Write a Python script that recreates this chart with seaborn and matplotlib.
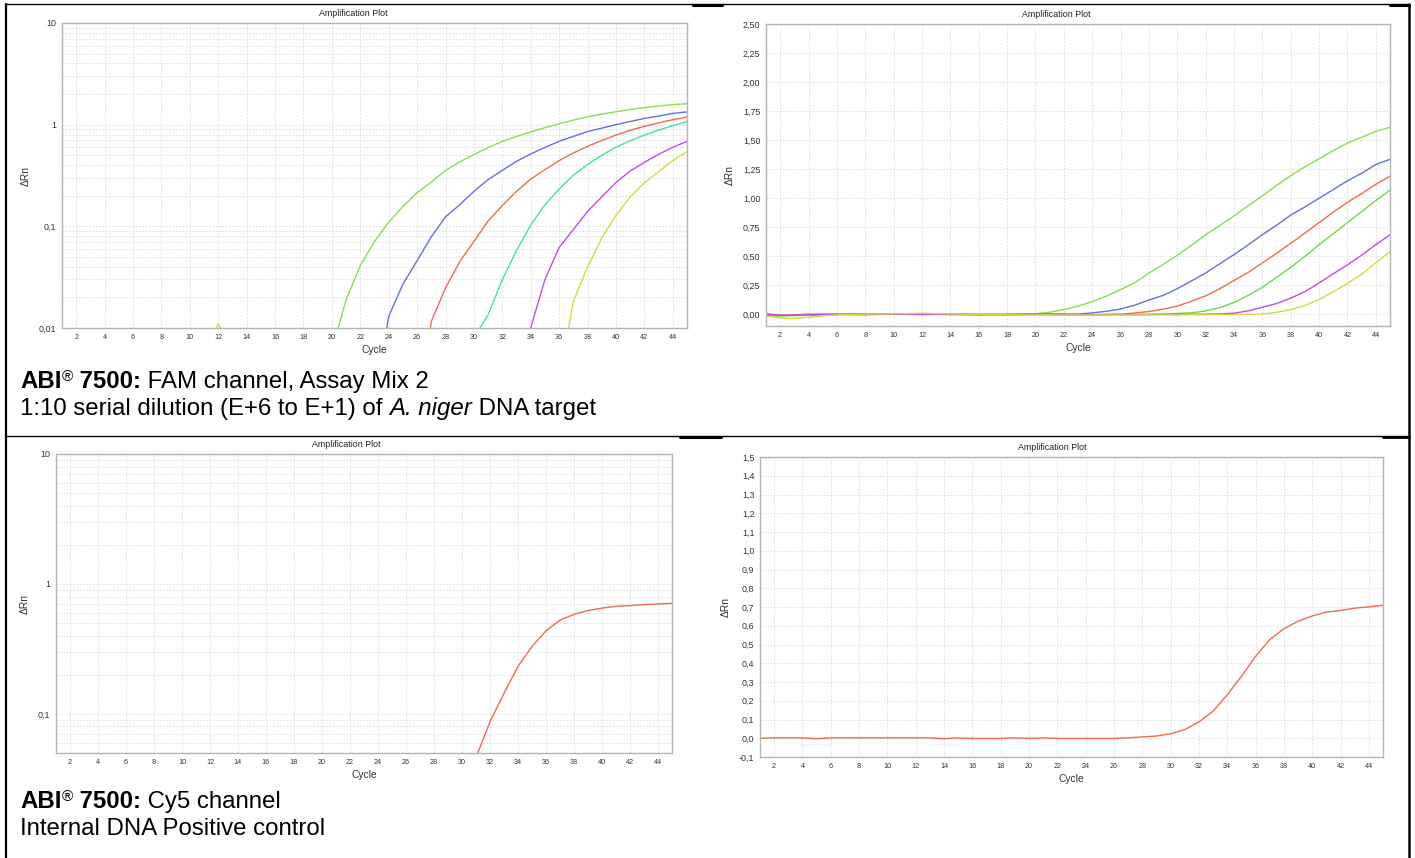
import numpy as np
import pandas as pd
import seaborn as sns
import matplotlib.pyplot as plt
from matplotlib.lines import Line2D
from matplotlib.ticker import LogLocator, NullFormatter

# FAM channel, Assay Mix 2 : 1:10 serial dilution E+6 .. E+1 (delta Rn per cycle)
cycles = list(range(1, 46))
fam_e6 = [-0.005, -0.012, -0.010, -0.006, -0.002, 0.000, 0.002, 0.003, 0.002, 0.001,
          0.000, -0.001, 0.000, 0.001, 0.000, -0.001, 0.000, 0.001, 0.002, 0.006,
          0.019, 0.041, 0.071, 0.110, 0.157, 0.214, 0.272, 0.355, 0.430, 0.508,
          0.595, 0.685, 0.765, 0.848, 0.935, 1.020, 1.110, 1.195, 1.270, 1.340,
          1.410, 1.475, 1.525, 1.575, 1.610]
fam_e5 = [-0.008, -0.010, -0.004, 0.002, 0.001, 0.000, -0.002, -0.003, 0.000, 0.002,
          0.001, 0.000, 0.001, 0.000, -0.001, -0.002, -0.002, -0.003, -0.001, 0.000,
          0.001, 0.001, 0.002, 0.013, 0.027, 0.046, 0.079, 0.124, 0.163, 0.221,
          0.288, 0.356, 0.436, 0.515, 0.598, 0.686, 0.767, 0.855, 0.925, 1.000,
          1.075, 1.150, 1.215, 1.290, 1.335]
fam_e4 = [0.005, -0.005, -0.006, -0.003, 0.000, 0.002, 0.003, 0.003, 0.004, 0.004,
          0.004, 0.003, 0.003, 0.002, 0.001, 0.000, 0.001, 0.002, 0.003, 0.004,
          0.005, 0.003, -0.002, -0.003, 0.000, 0.0012, 0.0116, 0.0248, 0.045, 0.071,
          0.113, 0.160, 0.221, 0.292, 0.361, 0.443, 0.526, 0.612, 0.700, 0.790,
          0.880, 0.965, 1.040, 1.120, 1.190]
fam_e3 = [-0.015, -0.012, -0.010, -0.008, -0.004, -0.001, 0.001, 0.002, 0.002, 0.002,
          0.001, 0.000, 0.000, 0.000, 0.000, -0.001, -0.001, -0.002, -0.002, -0.002,
          -0.003, -0.003, -0.003, -0.003, -0.002, -0.002, -0.001, 0.000, 0.002, 0.008,
          0.0135, 0.030, 0.058, 0.103, 0.163, 0.233, 0.318, 0.405, 0.500, 0.600,
          0.695, 0.790, 0.885, 0.980, 1.070]
fam_e2 = [0.000, -0.008, -0.007, -0.004, -0.001, 0.000, 0.001, 0.002, 0.002, 0.002,
          0.001, 0.000, 0.000, -0.001, -0.001, -0.002, -0.002, -0.002, -0.001, -0.001,
          -0.001, -0.002, -0.002, -0.002, -0.002, -0.001, -0.001, -0.001, 0.000, 0.000,
          0.001, 0.002, 0.004, 0.0101, 0.030, 0.062, 0.093, 0.140, 0.195, 0.270,
          0.350, 0.426, 0.510, 0.600, 0.685]
fam_e1 = [-0.012, -0.030, -0.035, -0.025, -0.012, -0.004, 0.000, 0.002, 0.004, 0.005,
          0.006, 0.011, 0.006, 0.004, 0.002, 0.000, -0.001, -0.002, -0.003, -0.004,
          -0.004, -0.005, -0.005, -0.005, -0.005, -0.005, -0.005, -0.004, -0.004, -0.004,
          -0.003, -0.003, -0.002, -0.001, 0.000, 0.003, 0.0183, 0.040, 0.077, 0.128,
          0.195, 0.268, 0.345, 0.445, 0.540]
fam_samples = ['E+6', 'E+5', 'E+4', 'E+3', 'E+2', 'E+1']
fam_colors_log = ['#86e04a', '#6070f0', '#f26a4c', '#3fe892', '#c04cf0', '#d8d83c']
fam_colors_lin = ['#86e04a', '#6070f0', '#f26a4c', '#6ada48', '#c04cf0', '#d8d83c']

# Cy5 channel, internal DNA positive control
cy5_ic = [0.000, 0.002, 0.002, 0.002, -0.002, 0.002, 0.002, 0.002, 0.002, 0.002,
          0.002, 0.002, 0.002, -0.002, 0.002, -0.001, -0.001, -0.001, 0.002, -0.001,
          0.002, -0.001, -0.001, -0.001, -0.001, -0.001, 0.002, 0.007, 0.012, 0.024,
          0.046, 0.087, 0.144, 0.232, 0.330, 0.436, 0.526, 0.584, 0.624, 0.652,
          0.673, 0.681, 0.694, 0.701, 0.709]
cy5_color = '#f26a4c'

x_ticks = list(range(2, 46, 2))
log_ticks = [0.01, 0.1, 1, 10]
log_labels = ['0,01', '0,1', '1', '10']
fam_lin_ticks = [0, 0.25, 0.5, 0.75, 1.0, 1.25, 1.5, 1.75, 2.0, 2.25, 2.5]
fam_lin_labels = ['0,00', '0,25', '0,50', '0,75', '1,00', '1,25', '1,50', '1,75', '2,00', '2,25', '2,50']
cy5_lin_ticks = [-0.1, 0, 0.1, 0.2, 0.3, 0.4, 0.5, 0.6, 0.7, 0.8, 0.9, 1.0, 1.1, 1.2, 1.3, 1.4, 1.5]
cy5_lin_labels = ['-0,1', '0,0', '0,1', '0,2', '0,3', '0,4', '0,5', '0,6', '0,7', '0,8',
                  '0,9', '1,0', '1,1', '1,2', '1,3', '1,4', '1,5']

sns.set_style('white')
plt.rcParams['font.family'] = ['Liberation Sans', 'DejaVu Sans']

fam = pd.DataFrame({
    'Cycle': cycles * 6,
    'dRn': fam_e6 + fam_e5 + fam_e4 + fam_e3 + fam_e2 + fam_e1,
    'sample': [s for s in fam_samples for _ in cycles],
})
cy5 = pd.DataFrame({'Cycle': cycles, 'dRn': cy5_ic})

W, H = 1415, 858
fig = plt.figure(figsize=(W / 100, H / 100), dpi=100)


def box(l, t, r, b):
    return [l / W, 1 - b / H, (r - l) / W, (b - t) / H]


def style(ax, ticks, labels, ylim, log, title_x):
    ax.set_xlim(1, 45)
    if log:
        ax.set_yscale('log')
        ax.yaxis.set_minor_locator(LogLocator(base=10, subs=range(2, 10)))
        ax.yaxis.set_minor_formatter(NullFormatter())
        ax.tick_params(axis='y', which='minor', length=0)
    ax.set_yticks(ticks, labels)
    ax.set_ylim(*ylim)
    ax.set_xticks(x_ticks, [str(t) for t in x_ticks])
    ax.set_xlim(1, 45)
    ax.grid(True, which='both', color='#d9d9d9', linestyle=(0, (2, 2)), linewidth=0.6)
    ax.set_axisbelow(True)
    for s in ax.spines.values():
        s.set_color('#b4b4b4')
        s.set_linewidth(1.0)
    ax.tick_params(axis='x', which='major', labelsize=5.2, length=2.5, width=0.6,
                   color='#808080', pad=2, labelcolor='#333333')
    ax.tick_params(axis='y', which='major', labelsize=6.4, length=2.5, width=0.6,
                   color='#808080', pad=1.5, labelcolor='#333333')
    ax.set_xlabel('Cycle', fontsize=7.4, color='#333333', labelpad=3)
    ax.set_ylabel('ΔRn', fontsize=7.4, color='#333333', labelpad=6)
    ax.set_title('Amplification Plot', fontsize=6.4, color='#222222', x=title_x, pad=5)


# top left: FAM, log scale
ax1 = fig.add_axes(box(62, 23, 687, 328))
sns.lineplot(data=fam, x='Cycle', y='dRn', hue='sample', palette=fam_colors_log,
             estimator=None, legend=False, linewidth=1.0, ax=ax1)
style(ax1, log_ticks, log_labels, (0.01, 10), True, 0.466)

# top right: FAM, linear scale
ax2 = fig.add_axes(box(766, 24, 1390, 326))
sns.lineplot(data=fam, x='Cycle', y='dRn', hue='sample', palette=fam_colors_lin,
             estimator=None, legend=False, linewidth=1.0, ax=ax2)
style(ax2, fam_lin_ticks, fam_lin_labels, (-0.1, 2.5), False, 0.466)

# bottom left: Cy5, log scale
ax3 = fig.add_axes(box(56, 454, 672, 753))
sns.lineplot(data=cy5, x='Cycle', y='dRn', color=cy5_color, estimator=None,
             linewidth=1.0, ax=ax3)
style(ax3, log_ticks, log_labels, (0.05, 10), True, 0.471)

# bottom right: Cy5, linear scale
ax4 = fig.add_axes(box(760, 457, 1383, 757))
sns.lineplot(data=cy5, x='Cycle', y='dRn', color=cy5_color, estimator=None,
             linewidth=1.0, ax=ax4)
style(ax4, cy5_lin_ticks, cy5_lin_labels, (-0.1, 1.5), False, 0.469)

# captions, drawn piece by piece so bold / italic / superscript can mix on one line
renderer = fig.canvas.get_renderer()
FS = 17.3


def caption(x, y, pieces):
    for txt, kw in pieces:
        size = kw.pop('size', FS)
        rise = kw.pop('rise', 0)
        t = fig.text(x / W, 1 - (y - rise) / H, txt, fontsize=size, va='baseline',
                     ha='left', color='black', **kw)
        x += t.get_window_extent(renderer).width


abi = [('ABI', dict(fontweight='bold')),
       ('®', dict(size=11, rise=7)),
       (' 7500:', dict(fontweight='bold'))]
caption(20, 388, abi + [(' FAM channel, Assay Mix 2', {})])
caption(20, 415, [('1:10 serial dilution (E+6 to E+1) of ', {}),
                  ('A. niger', dict(fontstyle='italic')),
                  (' DNA target', {})])
abi = [('ABI', dict(fontweight='bold')),
       ('®', dict(size=11, rise=7)),
       (' 7500:', dict(fontweight='bold'))]
caption(20, 808, abi + [(' Cy5 channel', {})])
caption(20, 835, [('Internal DNA Positive control', {})])


# table frame
def rule(x0, y0, x1, y1, lw):
    fig.add_artist(Line2D([x0 / W, x1 / W], [1 - y0 / H, 1 - y1 / H],
                          transform=fig.transFigure, color='black', linewidth=lw))


rule(5, 4, 1409, 4, 1.0)
rule(693, 4.5, 722, 4.5, 2.2)
rule(1390, 4.5, 1409, 4.5, 2.2)
rule(6, 3.5, 6, 858, 1.6)
rule(1409, 3.5, 1409, 858, 1.8)
rule(6, 436, 1409, 436, 1.0)
rule(680, 437, 721, 437, 2.2)
rule(1383, 436.5, 1409, 436.5, 2.0)

fig.savefig('out.png', dpi=100)
